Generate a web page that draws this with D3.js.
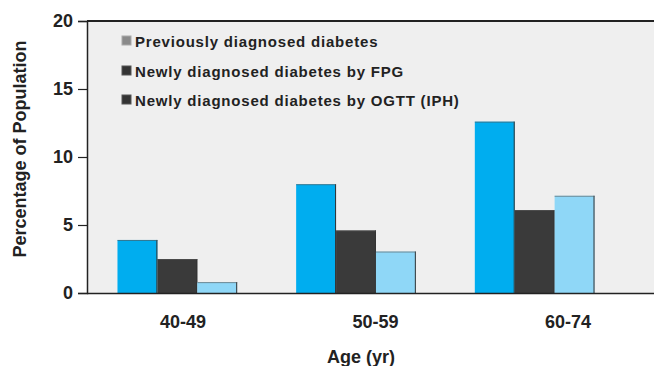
<!DOCTYPE html>
<html><head><meta charset="utf-8">
<script src="https://cdn.jsdelivr.net/npm/d3@7"></script>
<style>body{margin:0;background:#fff}svg{display:block;font-family:"Liberation Sans",Arial,sans-serif;font-weight:bold}</style>
</head><body><svg id="c" width="654" height="366"></svg>
<script>
const categories = ["40-49", "50-59", "60-74"];
const seriesNames = ["Previously diagnosed diabetes", "Newly diagnosed diabetes by FPG", "Newly diagnosed diabetes by OGTT (IPH)"];
const previous = [3.9, 8.0, 12.6];
const fpg = [2.5, 4.6, 6.1];
const ogtt = [0.8, 3.05, 7.15];
const yTicks = [0, 5, 10, 15, 20];
const barColors = ["#00adef", "#3a3a3a", "#8fd7f7"];
const legendColors = ["#8a8a8a", "#333333", "#333333"];

const svg = d3.select("#c");
const L = 87, R = 654, T = 21, B = 293;
const y = d3.scaleLinear().domain([0, 20]).range([B, T]);
const x0 = d3.scaleBand().domain(categories).range([88, 624]).paddingInner(0.33).paddingOuter(0.165);
const x1 = d3.scaleBand().domain([0,1,2]).range([0, x0.bandwidth()]);
const xl = d3.scaleBand().domain(categories).range([86.75, 664.25]);

svg.append("rect").attr("x", L).attr("y", T).attr("width", R - L).attr("height", B - T).attr("fill", "#efefef");

const series = [previous, fpg, ogtt];
const g = svg.append("g");
categories.forEach((c, i) => {
  series.forEach((s, j) => {
    const bx = x0(c) + x1(j), bw = x1.bandwidth();
    g.append("rect").attr("x", bx).attr("y", y(s[i])).attr("width", bw).attr("height", y(0) - y(s[i]))
      .attr("fill", barColors[j]);
    g.append("line").attr("x1", bx + bw - 0.5).attr("x2", bx + bw - 0.5).attr("y1", y(s[i])).attr("y2", y(0))
      .attr("stroke", "#333").attr("stroke-width", 1);
    g.append("line").attr("x1", bx).attr("x2", bx + bw).attr("y1", y(s[i]) + 0.5).attr("y2", y(s[i]) + 0.5)
      .attr("stroke", "#555").attr("stroke-width", 1).attr("opacity", 0.6);
  });
});

// top border
svg.append("line").attr("x1", L).attr("x2", R).attr("y1", T).attr("y2", T).attr("stroke", "#222").attr("stroke-width", 2);
// baseline
svg.append("line").attr("x1", L).attr("x2", R).attr("y1", B + 0.5).attr("y2", B + 0.5).attr("stroke", "#222").attr("stroke-width", 1.5);

const font = "Liberation Sans, Arial, sans-serif";
// y axis
const ya = svg.append("g").attr("transform", `translate(${L},0)`)
  .call(d3.axisLeft(y).tickValues(yTicks).tickSize(9).tickPadding(5).tickFormat(d3.format("d")));
ya.select(".domain").attr("stroke", "#222").attr("stroke-width", 1.5);
ya.selectAll(".tick line").attr("stroke", "#222").attr("stroke-width", 1.2);
ya.selectAll("text").attr("font-size", 18).attr("font-weight", "bold").attr("fill", "#222").attr("font-family", font);

// x labels
const xa = svg.append("g").attr("transform", `translate(0,${B})`)
  .call(d3.axisBottom(xl).tickSize(0).tickPadding(22));
xa.select(".domain").remove();
xa.selectAll("text").attr("font-size", 18).attr("font-weight", "bold").attr("fill", "#222").attr("font-family", font);

// axis titles
svg.append("text").attr("x", 361).attr("y", 363).attr("text-anchor", "middle").attr("font-size", 18).attr("fill", "#222").text("Age (yr)");
svg.append("text").attr("transform", "translate(26,149) rotate(-90)").attr("text-anchor", "middle").attr("font-size", 18).attr("fill", "#222").text("Percentage of Population");

// legend
const lg = svg.append("g");
const ly = [41, 71, 100];
seriesNames.forEach((n, i) => {
  lg.append("rect").attr("x", 122).attr("y", ly[i] - 5).attr("width", 9).attr("height", 9)
    .attr("fill", legendColors[i]).attr("stroke", i === 0 ? "#aaa" : "#555").attr("stroke-width", 1);
  lg.append("text").attr("x", 135).attr("y", ly[i] + 5.5).attr("font-size", 15).attr("letter-spacing", 0.8).attr("fill", "#222").text(n);
});
</script></body></html>
